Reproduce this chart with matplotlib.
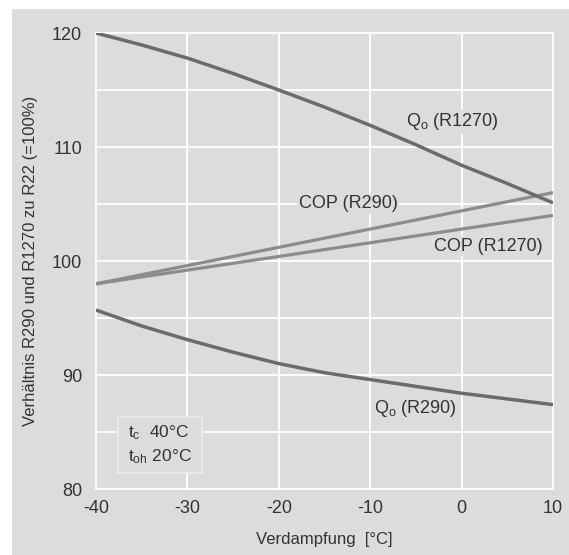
import numpy as np
import matplotlib
matplotlib.use('Agg')
import matplotlib.pyplot as plt
from matplotlib.patches import Rectangle

plt.rcParams['font.family'] = ['Liberation Sans', 'DejaVu Sans']
plt.rcParams['mathtext.default'] = 'regular'
plt.rcParams['axes.unicode_minus'] = False

# Verdampfungstemperatur [°C]
t_verd = [-40, -35, -30, -25, -20, -15, -10, -5, 0, 5, 10]
# Verhaeltnis zu R22 (=100%)
qo_r1270 = [120.0, 118.95, 117.8, 116.45, 115.0, 113.5, 111.9, 110.2, 108.4, 106.8, 105.1]
qo_r290 = [95.7, 94.3, 93.1, 92.0, 91.0, 90.2, 89.6, 89.0, 88.4, 87.9, 87.4]
cop_r290 = [98.0, 98.8, 99.6, 100.4, 101.2, 102.0, 102.8, 103.6, 104.4, 105.2, 106.0]
cop_r1270 = [98.0, 98.6, 99.2, 99.8, 100.4, 101.0, 101.6, 102.2, 102.8, 103.4, 104.0]

xticks = [-40, -30, -20, -10, 0, 10]
yticks = [80, 90, 100, 110, 120]
yminor = [85, 95, 105, 115]

bg = '#dcdcdc'
txt = '#333333'
dark = '#6b6b6b'
light = '#8c8c8c'

fig = plt.figure(figsize=(5.69, 5.55), dpi=100)
fig.patch.set_facecolor('white')
# grauer Hintergrund mit weissem Rand oben/links
fig.patches.append(Rectangle((12 / 569, 0), 1, 1 - 9 / 555, transform=fig.transFigure,
                             facecolor=bg, edgecolor='none', zorder=-10))

ax = fig.add_axes([96 / 569, 66 / 555, 457 / 569, 456 / 555])
ax.set_facecolor(bg)
for s in ax.spines.values():
    s.set_visible(False)

ax.set_xlim(-40, 10)
ax.set_ylim(80, 120)
ax.set_xticks(xticks)
ax.set_yticks(yticks)
ax.set_yticks(yminor, minor=True)
ax.tick_params(which='both', length=0, labelsize=13, labelcolor=txt)
ax.tick_params(axis='x', pad=8)
ax.tick_params(axis='y', pad=10)

for x in xticks:
    ax.axvline(x, color='white', lw=1.3, zorder=1, clip_on=False)
for y in yticks + yminor:
    ax.axhline(y, color='white', lw=1.3, zorder=1, clip_on=False)

ax.plot(t_verd, cop_r290, color=light, lw=2.3, zorder=3, solid_capstyle='butt')
ax.plot(t_verd, cop_r1270, color=light, lw=2.3, zorder=3, solid_capstyle='butt')
ax.plot(t_verd, qo_r1270, color=dark, lw=2.5, zorder=4, solid_capstyle='butt')
ax.plot(t_verd, qo_r290, color=dark, lw=2.5, zorder=4, solid_capstyle='butt')

lbl = dict(fontsize=13, color=txt, ha='center', va='center', zorder=5,
           bbox=dict(facecolor=bg, edgecolor='none', pad=1))
ax.text(-1.05, 112.2, 'Q$_o$ (R1270)', **lbl)
ax.text(-12.4, 105.0, 'COP (R290)', **lbl)
ax.text(2.94, 101.3, 'COP (R1270)', **lbl)
ax.text(-5.1, 87.1, 'Q$_o$ (R290)', **lbl)

# Kasten mit Randbedingungen
ax.add_patch(Rectangle((-37.6, 81.4), 9.2, 4.9, facecolor=bg, edgecolor='#ececec',
                       lw=1.2, zorder=5))
ax.text(-36.5, 84.9, 't$_c$  40°C', fontsize=12.5, color=txt, va='center', zorder=6)
ax.text(-36.5, 82.8, 't$_{oh}$ 20°C', fontsize=12.5, color=txt, va='center', zorder=6)

ax.set_xlabel('Verdampfung  [°C]', fontsize=12, color=txt, labelpad=11)
ax.set_ylabel('Verhältnis R290 und R1270 zu R22 (=100%)', fontsize=12, color=txt, labelpad=10)

fig.savefig('out.png', dpi=100, facecolor=fig.get_facecolor())
